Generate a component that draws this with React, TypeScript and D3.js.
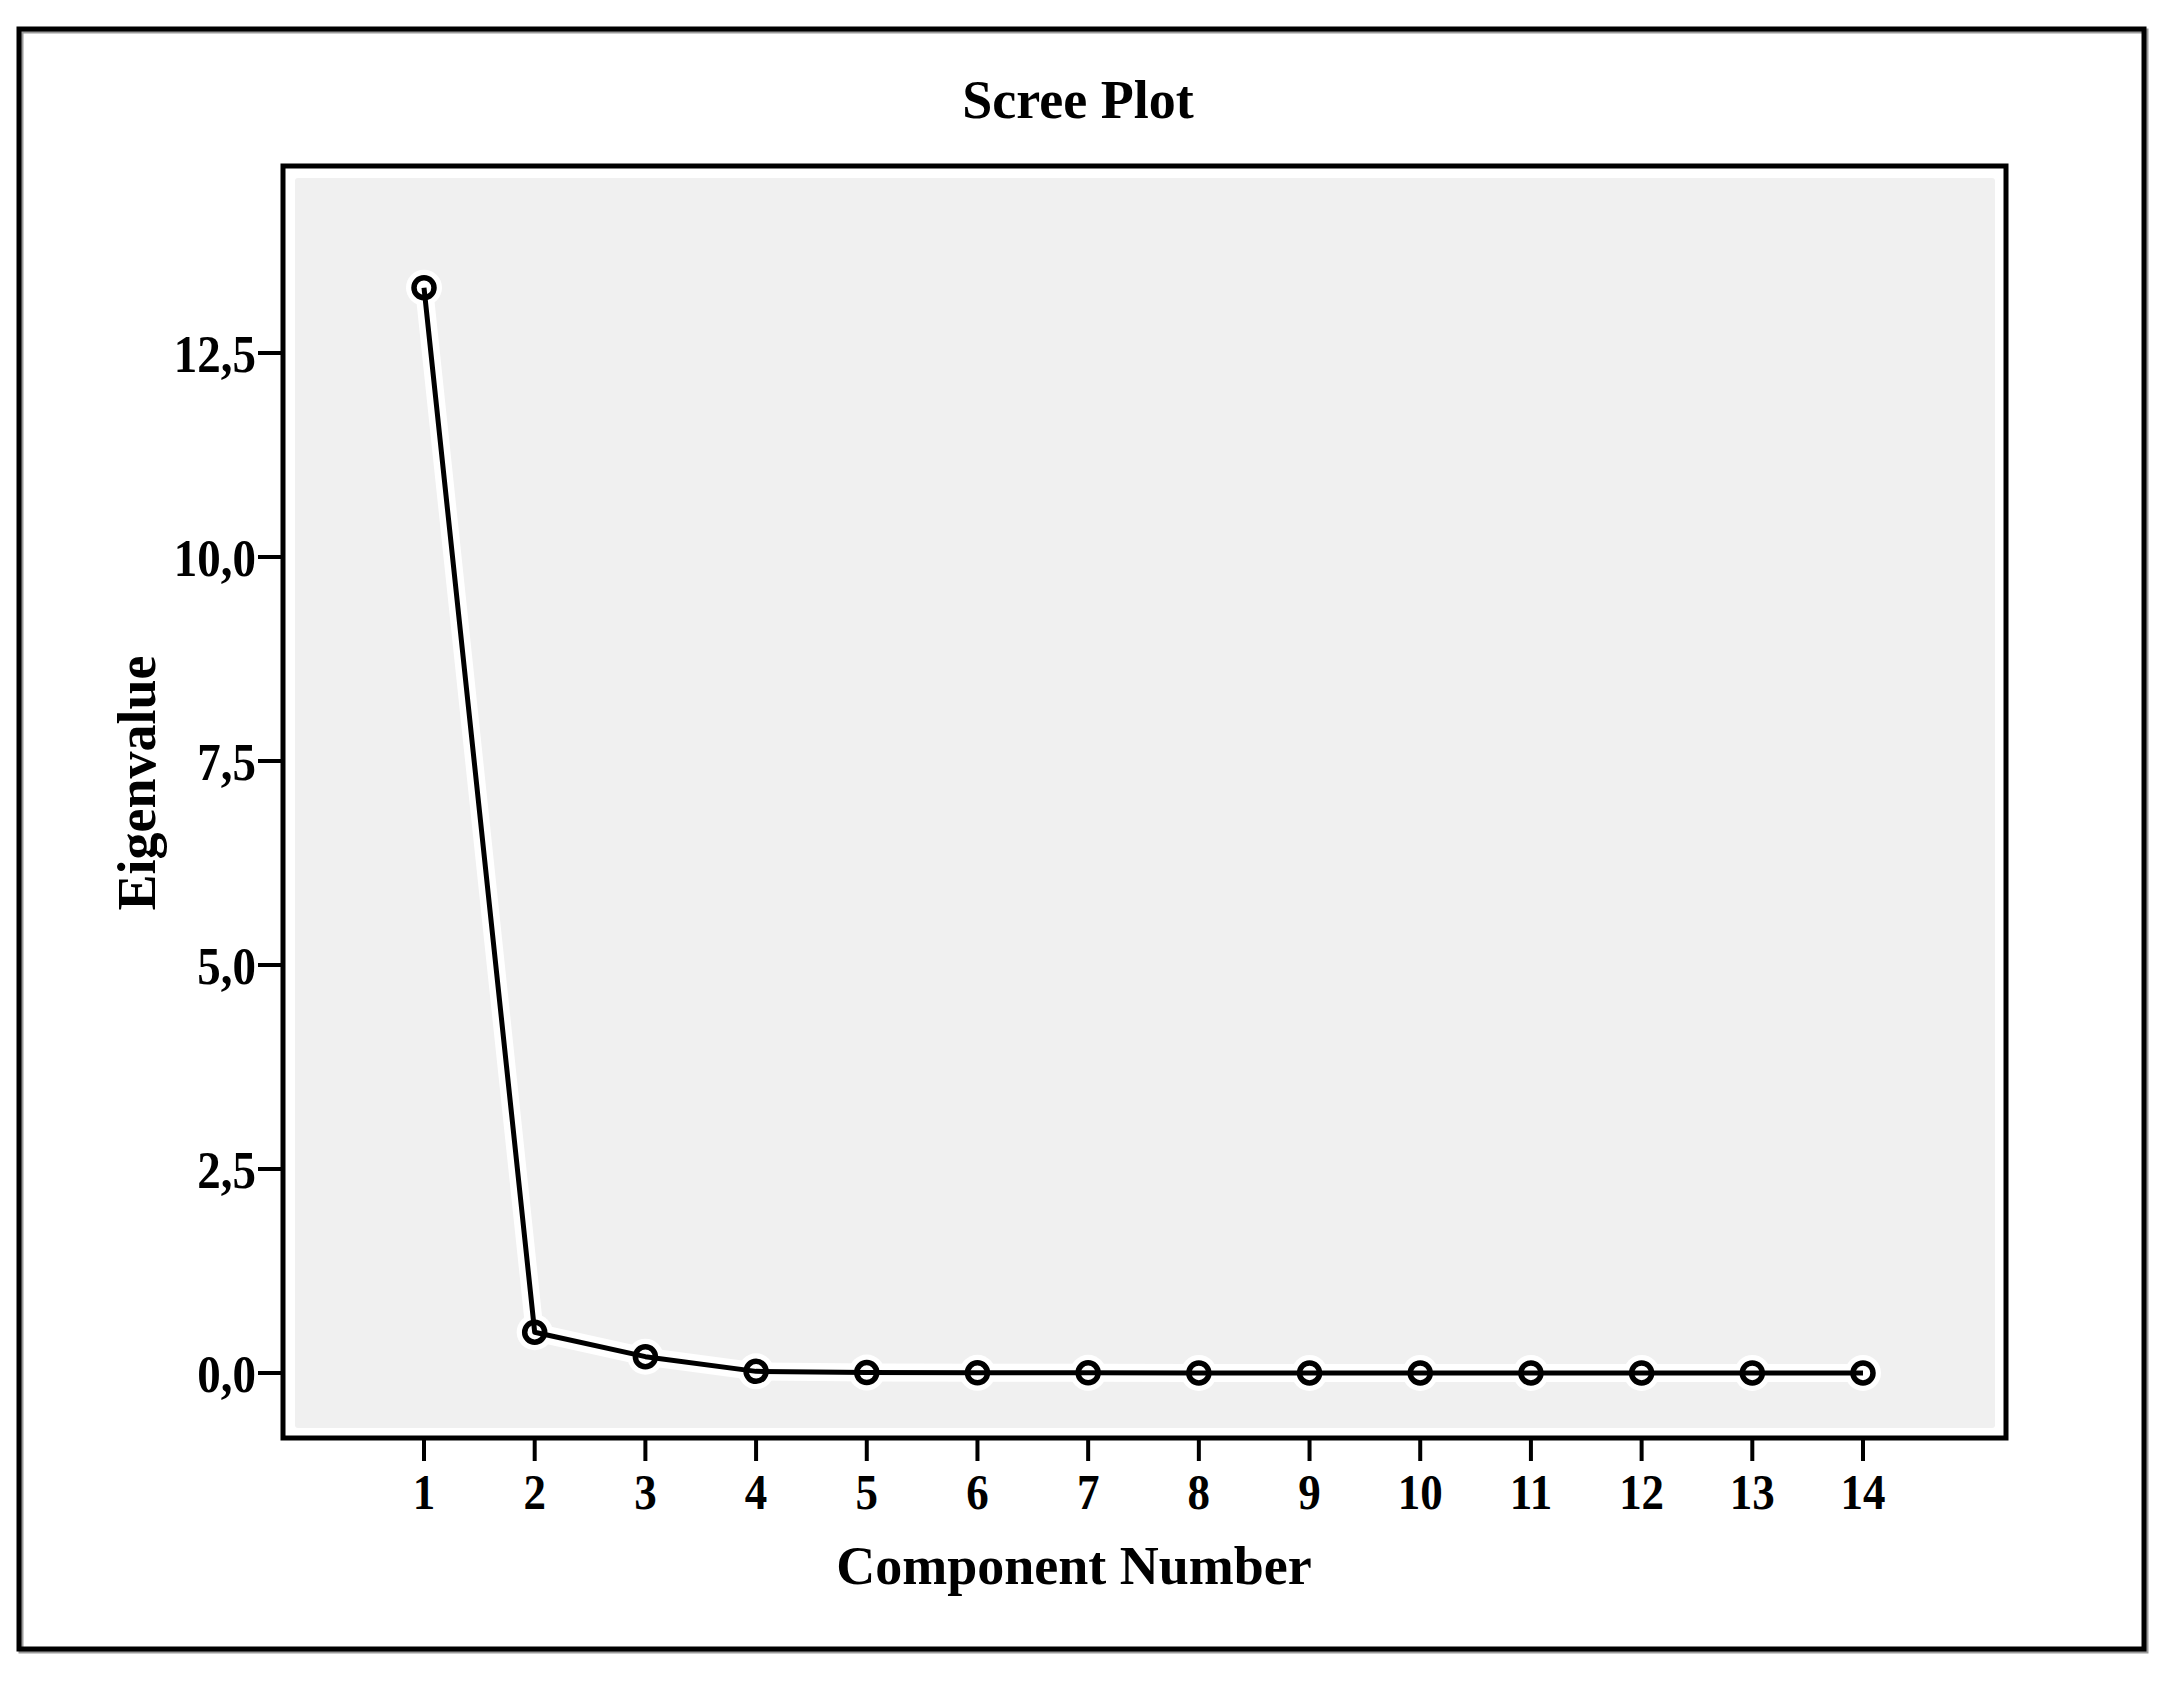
import React from "react";
import * as d3 from "d3";

const components = [1, 2, 3, 4, 5, 6, 7, 8, 9, 10, 11, 12, 13, 14];
const eigenvalues = [13.3, 0.5, 0.2, 0.02, 0.005, 0.003, 0.002, 0.001, 0.001, 0.001, 0.0005, 0.0004, 0.0003, 0.0002];
const yTicks = [0, 2.5, 5, 7.5, 10, 12.5];
const yTickLabels = ["0,0", "2,5", "5,0", "7,5", "10,0", "12,5"];
const title = "Scree Plot";
const xTitle = "Component Number";
const yTitle = "Eigenvalue";

const W = 2173;
const H = 1682;
const FONT = "'Liberation Serif', 'Times New Roman', serif";

export default function App() {
  const frame = { left: 283, top: 166, right: 2006, bottom: 1438 };
  const x = d3.scaleLinear().domain([1, 14]).range([424, 1863]);
  const y = d3.scaleLinear().domain([0, 12.5]).range([1373, 353]);
  const pts = components.map((c, i) => [x(c), y(eigenvalues[i])] as [number, number]);
  const line = d3.line()(pts) || "";

  return (
    <svg width={W} height={H} style={{ position: "absolute", left: 0, top: 0, background: "#fff" }}>
      <rect x={0} y={0} width={W} height={H} fill="#fff" />
      {/* outer frame */}
      <rect x={21} y={31} width={2146 - 21} height={1651 - 31} fill="none" stroke="#9a9a9a" strokeWidth={5} />
      <rect x={19} y={29} width={2146 - 21} height={1651 - 31} fill="none" stroke="#000" strokeWidth={5} />
      {/* title */}
      <text x={1078} y={118} textAnchor="middle" fontFamily={FONT} fontWeight="bold" fontSize={54}>{title}</text>
      {/* plot background */}
      <rect x={frame.left} y={frame.top} width={frame.right - frame.left} height={frame.bottom - frame.top} fill="#fff" />
      <rect x={295} y={178} width={1995 - 295} height={1428 - 178} rx={3} fill="#f0f0f0" />
      {/* inner frame */}
      <rect x={frame.left} y={frame.top} width={frame.right - frame.left} height={frame.bottom - frame.top} fill="none" stroke="#000" strokeWidth={5} />
      {/* y ticks */}
      {yTicks.map((t, i) => (
        <g key={"yt" + i}>
          <line x1={258} x2={frame.left} y1={y(t)} y2={y(t)} stroke="#000" strokeWidth={4} />
          <text transform={`translate(256,${y(t) + 19}) scale(1,1.12)`} textAnchor="end" fontFamily={FONT} fontWeight="bold" fontSize={47}>{yTickLabels[i]}</text>
        </g>
      ))}
      {/* x ticks */}
      {components.map((c) => (
        <g key={"xt" + c}>
          <line x1={x(c)} x2={x(c)} y1={frame.bottom} y2={1461} stroke="#000" strokeWidth={4} />
          <text transform={`translate(${x(c)},1509) scale(1,1.12)`} textAnchor="middle" fontFamily={FONT} fontWeight="bold" fontSize={45}>{String(c)}</text>
        </g>
      ))}
      {/* axis titles */}
      <text x={1074} y={1584} textAnchor="middle" fontFamily={FONT} fontWeight="bold" fontSize={54}>{xTitle}</text>
      <text transform={`translate(155,783) rotate(-90)`} textAnchor="middle" fontFamily={FONT} fontWeight="bold" fontSize={54}>{yTitle}</text>
      {/* halo */}
      <path d={line} fill="none" stroke="#fff" strokeWidth={18} strokeLinejoin="round" strokeLinecap="round" />
      {pts.map((p, i) => (
        <circle key={"h" + i} cx={p[0]} cy={p[1]} r={18} fill="#fff" />
      ))}
      {/* line */}
      <path d={line} fill="none" stroke="#000" strokeWidth={5} strokeLinejoin="round" />
      {pts.map((p, i) => (
        <circle key={"c" + i} cx={p[0]} cy={p[1]} r={10} fill="none" stroke="#000" strokeWidth={5.5} />
      ))}
    </svg>
  );
}
